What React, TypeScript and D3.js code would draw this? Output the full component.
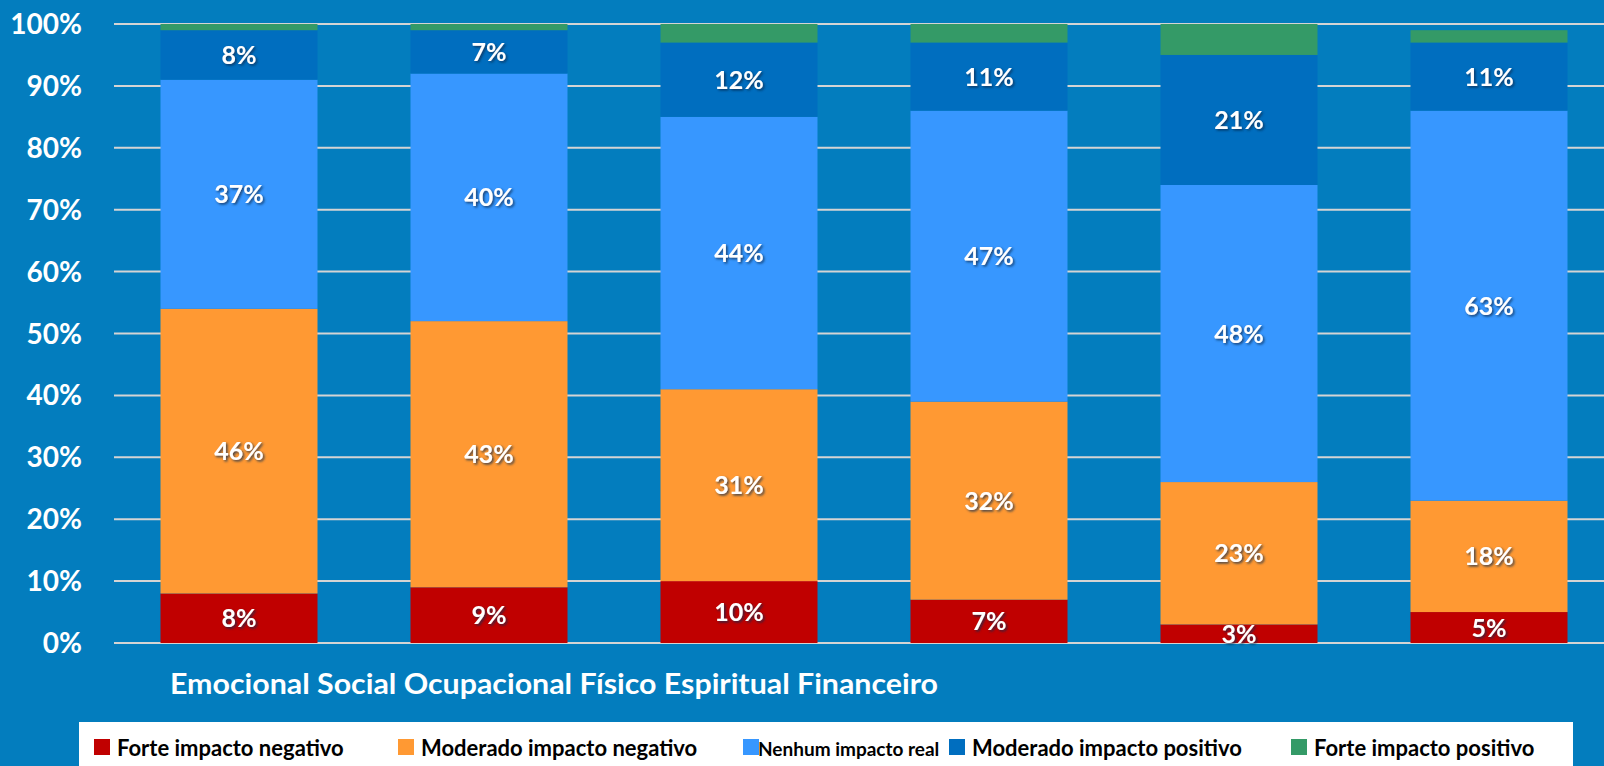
import React from 'react';
import * as d3 from 'd3';

// categories and stacked shares (percent)
const categories = ['Emocional', 'Social', 'Ocupacional', 'Físico', 'Espiritual', 'Financeiro'];
const seriesNames = [
  'Forte impacto negativo',
  'Moderado impacto negativo',
  'Nenhum impacto real',
  'Moderado impacto positivo',
  'Forte impacto positivo'
];
const forteNegativo = [8, 9, 10, 7, 3, 5];
const moderadoNegativo = [46, 43, 31, 32, 23, 18];
const nenhumImpacto = [37, 40, 44, 47, 48, 63];
const moderadoPositivo = [8, 7, 12, 11, 21, 11];
const fortePositivo = [1, 1, 3, 3, 5, 2];
const yTicks = [0, 10, 20, 30, 40, 50, 60, 70, 80, 90, 100];

const colors = ['#C00000', '#FF9933', '#3797FF', '#006EBF', '#349A67'];
const showLabel = [true, true, true, true, false];

const W = 1604;
const H = 766;
const FONT = 'Lato, "Open Sans", sans-serif';

// legend layout (x of swatch)
const legendX = [94, 398, 743, 949, 1291];

export default function App() {
  const allSeries = [forteNegativo, moderadoNegativo, nenhumImpacto, moderadoPositivo, fortePositivo];
  const rows = categories.map((c, i) => {
    const r: any = { cat: c };
    allSeries.forEach((s, k) => { r['s' + k] = s[i]; });
    return r;
  });
  const stack = d3.stack<any>().keys(allSeries.map((_, k) => 's' + k));
  const layers = stack(rows);

  const x = d3.scaleBand<string>()
    .domain(categories)
    .range([114, 1614])
    .paddingInner(0.372)
    .paddingOuter(0.186);
  const y = d3.scaleLinear().domain([0, 100]).range([643, 24]);

  return (
    <svg width={W} height={H} style={{ position: 'fixed', left: 0, top: 0, display: 'block' }}>
      <defs>
        <filter id="shadow" x="-20%" y="-20%" width="140%" height="140%">
          <feDropShadow dx="1.5" dy="1.5" stdDeviation="1" floodColor="#0a2a50" floodOpacity="0.8" />
        </filter>
      </defs>
      <rect x={0} y={0} width={W} height={H} fill="#037DBE" />

      {/* gridlines */}
      {yTicks.map(t => (
        <line key={'g' + t} x1={114} x2={W} y1={y(t)} y2={y(t)} stroke="#D4D4D4" strokeWidth={2} />
      ))}
      {/* y tick labels */}
      {yTicks.map(t => (
        <text key={'t' + t} x={82} y={y(t)} dy="0.36em" textAnchor="end" fill="#fff"
          fontFamily={FONT} fontWeight={700} fontSize={28}>{t}%</text>
      ))}

      {/* bars */}
      {layers.map((layer, k) => (
        <g key={'l' + k} fill={colors[k]}>
          {layer.map((d, i) => (
            <rect key={i} x={x(categories[i])} width={x.bandwidth()}
              y={y(d[1])} height={y(d[0]) - y(d[1])} />
          ))}
        </g>
      ))}
      {/* value labels */}
      {layers.map((layer, k) => showLabel[k] && (
        <g key={'v' + k}>
          {layer.map((d, i) => (
            <text key={i} x={(x(categories[i]) as number) + x.bandwidth() / 2}
              y={(y(d[0]) + y(d[1])) / 2} dy="0.36em" textAnchor="middle" fill="#fff"
              fontFamily={FONT} fontWeight={700} fontSize={25} filter="url(#shadow)">
              {allSeries[k][i]}%
            </text>
          ))}
        </g>
      ))}

      {/* category names, written as one line */}
      <text x={170} y={694} fill="#fff" fontFamily={FONT} fontWeight={700} fontSize={29}
        textLength={768} lengthAdjust="spacingAndGlyphs">
        {categories.join(' ')}
      </text>

      {/* legend */}
      <rect x={79} y={722} width={1494} height={H - 722} fill="#fff" />
      {seriesNames.map((name, k) => (
        <g key={'lg' + k}>
          <rect x={legendX[k]} y={739} width={16} height={16} fill={colors[k]} />
          <text x={legendX[k] + (k === 2 ? 15 : 23)} y={756} fill="#000" fontFamily={FONT}
            fontWeight={700} fontSize={k === 2 ? 19 : 22}>{name}</text>
        </g>
      ))}
    </svg>
  );
}
